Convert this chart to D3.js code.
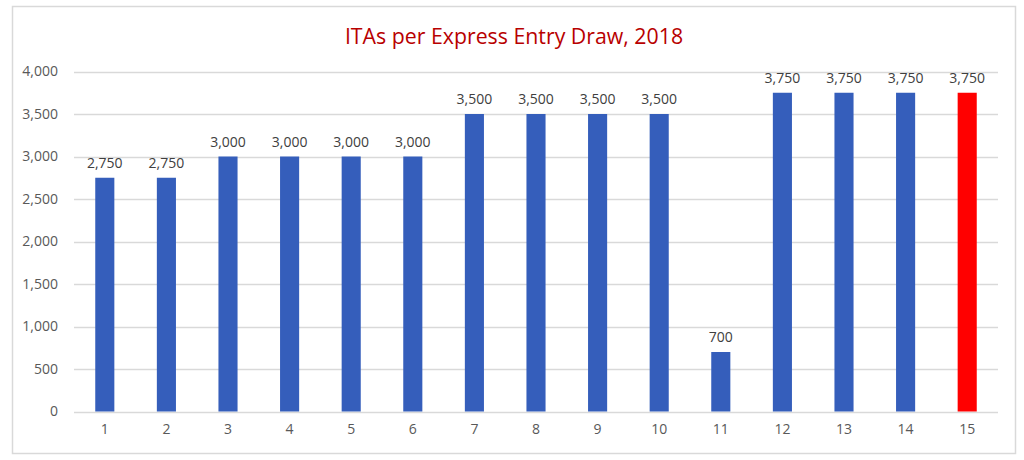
<!DOCTYPE html>
<html>
<head>
<meta charset="utf-8" />
<title>ITAs per Express Entry Draw, 2018</title>
<style>
  body { margin: 0; background: #fff; }
  text { font-family: "Open Sans", "Liberation Sans", sans-serif; }
</style>
</head>
<body>
<script src="https://d3js.org/d3.v7.min.js"></script>
<script>

var draws = [1, 2, 3, 4, 5, 6, 7, 8, 9, 10, 11, 12, 13, 14, 15];
var itas = [2750, 2750, 3000, 3000, 3000, 3000, 3500, 3500, 3500, 3500, 700, 3750, 3750, 3750, 3750];
var highlighted = [15];
var yTicks = [0, 500, 1000, 1500, 2000, 2500, 3000, 3500, 4000];

var width = 1024, height = 460;
var margin = {left: 74, right: 26, top: 71.5, bottom: 48.5};

var svg = d3.select("body").append("svg")
    .attr("width", width)
    .attr("height", height);

// chart frame
svg.append("rect")
   .attr("x", 12.5).attr("y", 6.5)
   .attr("width", 1003).attr("height", 447)
   .attr("fill", "#fff")
   .attr("stroke", "#d9d9d9")
   .attr("stroke-width", 1.5);

svg.append("text")
   .attr("x", 514)
   .attr("y", 44)
   .attr("text-anchor", "middle")
   .attr("fill", "#b80000")
   .style("font-size", "21.3px")
   .text("ITAs per Express Entry Draw, 2018");

var x = d3.scaleBand()
    .domain(draws)
    .range([margin.left, width - margin.right])
    .paddingInner(0.69)
    .paddingOuter(0.345);

var y = d3.scaleLinear()
    .domain([0, 4000])
    .range([height - margin.bottom, margin.top]);

// gridlines
svg.append("g")
   .selectAll("line")
   .data(yTicks)
   .join("line")
   .attr("x1", margin.left)
   .attr("x2", width - margin.right)
   .attr("y1", d => Math.round(y(d)) + 0.5)
   .attr("y2", d => Math.round(y(d)) + 0.5)
   .attr("stroke", "#d9d9d9")
   .attr("stroke-width", 1.5);

var yAxis = d3.axisLeft(y)
    .tickValues(yTicks)
    .tickFormat(d3.format(","))
    .tickSize(0)
    .tickPadding(16);

svg.append("g")
   .attr("transform", "translate(" + margin.left + ",0)")
   .call(yAxis)
   .call(g => g.select(".domain").remove())
   .selectAll("text")
   .attr("fill", "#595959")
   .style("font-size", "14px");

var xAxis = d3.axisBottom(x).tickSize(0).tickPadding(13);

svg.append("g")
   .attr("transform", "translate(0," + (height - margin.bottom) + ")")
   .call(xAxis)
   .call(g => g.select(".domain").remove())
   .selectAll("text")
   .attr("fill", "#595959")
   .style("font-size", "14px");

var bars = draws.map((d, i) => ({draw: d, value: itas[i]}));

svg.append("g")
   .selectAll("rect")
   .data(bars)
   .join("rect")
   .attr("x", d => x(d.draw))
   .attr("y", d => y(d.value))
   .attr("width", x.bandwidth())
   .attr("height", d => y(0) - y(d.value))
   .attr("fill", d => highlighted.includes(d.draw) ? "#ff0000" : "#355ebb");

svg.append("g")
   .selectAll("text")
   .data(bars)
   .join("text")
   .attr("x", d => x(d.draw) + x.bandwidth() / 2)
   .attr("y", d => y(d.value) - 10)
   .attr("text-anchor", "middle")
   .attr("fill", "#404040")
   .style("font-size", "14px")
   .text(d => d3.format(",")(d.value));

</script>
</body>
</html>
